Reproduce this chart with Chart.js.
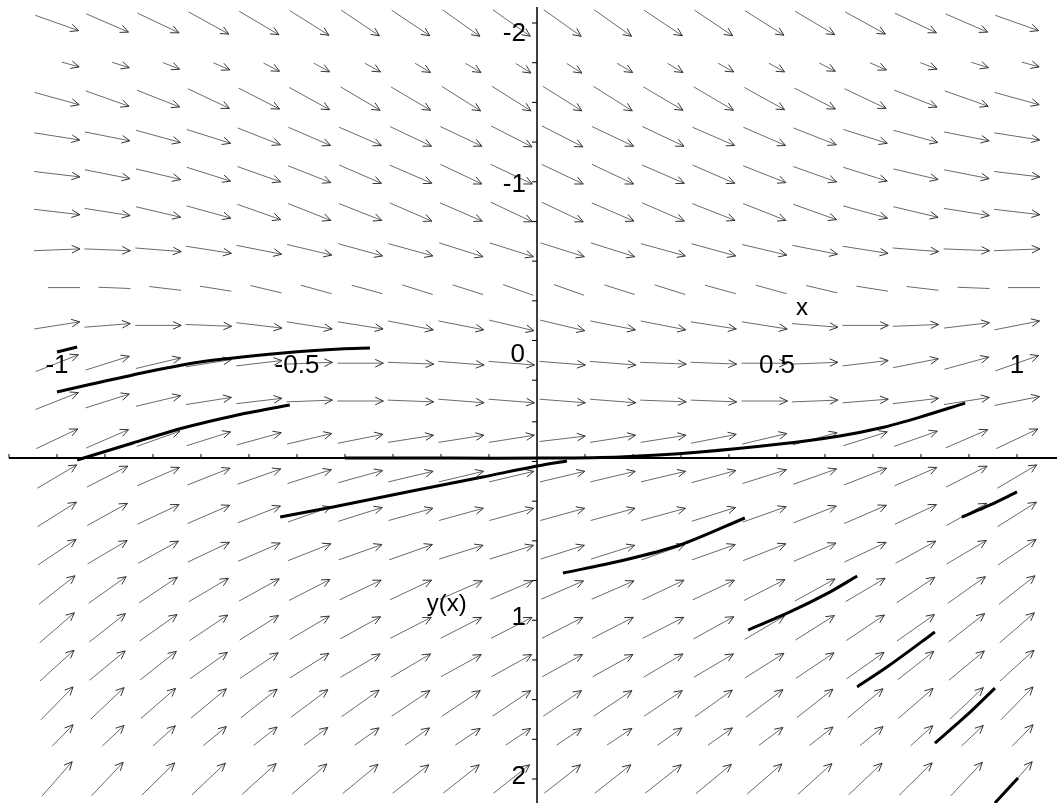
<!DOCTYPE html>
<html>
<head>
<meta charset="utf-8">
<script src="https://cdn.jsdelivr.net/npm/chart.js@4.4.0/dist/chart.umd.min.js"></script>
<style>
html, body { margin: 0; padding: 0; background: #fff; }
#wrap { width: 1057px; height: 803px; }
</style>
</head>
<body>
<div id="wrap"><canvas id="field" width="1057" height="803"></canvas></div>
<script>
// direction field grid (x across, y down the picture)
const gridX = [-1, -0.895, -0.789, -0.684, -0.579, -0.474, -0.368, -0.263, -0.158, -0.053,
               0.053, 0.158, 0.263, 0.368, 0.474, 0.579, 0.684, 0.789, 0.895, 1];
const gridY = [-2, -1.8, -1.6, -1.4, -1.2, -1, -0.8, -0.6, -0.4, -0.2, 0,
               0.2, 0.4, 0.6, 0.8, 1, 1.2, 1.4, 1.6, 1.8, 2];

const slopes = [
  [0.9, 1.1, 1.2, 1.4, 1.5, 1.6, 1.7, 1.7, 1.8, 1.8, 1.8, 1.8, 1.7, 1.7, 1.6, 1.5, 1.4, 1.2, 1.1, 0.9],
  [0.7, 0.8, 1.0, 1.1, 1.3, 1.4, 1.4, 1.5, 1.5, 1.6, 1.6, 1.5, 1.5, 1.4, 1.4, 1.3, 1.1, 1.0, 0.8, 0.7],
  [0.7, 0.9, 1.0, 1.2, 1.3, 1.4, 1.5, 1.5, 1.6, 1.6, 1.6, 1.6, 1.5, 1.5, 1.4, 1.3, 1.2, 1.0, 0.9, 0.7],
  [0.4, 0.5, 0.7, 0.8, 1.0, 1.1, 1.1, 1.2, 1.2, 1.3, 1.3, 1.2, 1.2, 1.1, 1.1, 1.0, 0.8, 0.7, 0.5, 0.4],
  [0.3, 0.5, 0.6, 0.8, 0.9, 1.0, 1.1, 1.1, 1.2, 1.2, 1.2, 1.2, 1.1, 1.1, 1.0, 0.9, 0.8, 0.6, 0.5, 0.3],
  [0.3, 0.4, 0.6, 0.7, 0.9, 1.0, 1.0, 1.1, 1.1, 1.2, 1.2, 1.1, 1.1, 1.0, 1.0, 0.9, 0.7, 0.6, 0.4, 0.3],
  [-0.1, 0.1, 0.2, 0.4, 0.5, 0.6, 0.7, 0.7, 0.8, 0.8, 0.8, 0.8, 0.7, 0.7, 0.6, 0.5, 0.4, 0.2, 0.1, -0.1],
  [0.0, 0.1, 0.3, 0.4, 0.6, 0.7, 0.7, 0.8, 0.8, 0.9, 0.9, 0.8, 0.8, 0.7, 0.7, 0.6, 0.4, 0.3, 0.1, 0.0],
  [-0.4, -0.2, 0.0, 0.1, 0.3, 0.4, 0.4, 0.5, 0.5, 0.6, 0.6, 0.5, 0.5, 0.4, 0.4, 0.2, 0.0, -0.1, -0.3, -0.5],
  [-1.0, -0.8, -0.6, -0.4, -0.3, -0.1, 0.0, 0.1, 0.2, 0.2, 0.2, 0.2, 0.1, 0.1, 0.0, -0.1, -0.3, -0.5, -0.7, -0.9],
  [-1.0, -0.8, -0.6, -0.4, -0.3, -0.1, 0.0, 0.1, 0.2, 0.2, 0.2, 0.2, 0.1, 0.1, 0.0, -0.1, -0.2, -0.3, -0.4, -0.5],
  [-1.2, -1.1, -0.9, -0.8, -0.7, -0.6, -0.5, -0.4, -0.4, -0.4, -0.3, -0.4, -0.4, -0.5, -0.6, -0.7, -0.8, -0.9, -1.1, -1.2],
  [-1.5, -1.3, -1.1, -1.0, -0.9, -0.8, -0.7, -0.6, -0.6, -0.6, -0.6, -0.6, -0.6, -0.7, -0.8, -0.9, -1.0, -1.1, -1.3, -1.5],
  [-1.6, -1.4, -1.2, -1.1, -1.0, -0.9, -0.8, -0.7, -0.7, -0.7, -0.7, -0.7, -0.7, -0.8, -0.9, -1.0, -1.1, -1.2, -1.4, -1.6],
  [-1.7, -1.5, -1.4, -1.2, -1.1, -1.0, -0.9, -0.9, -0.8, -0.8, -0.8, -0.8, -0.9, -0.9, -1.0, -1.1, -1.2, -1.4, -1.5, -1.7],
  [-2.0, -1.8, -1.7, -1.5, -1.4, -1.3, -1.2, -1.2, -1.1, -1.1, -1.1, -1.1, -1.2, -1.2, -1.3, -1.4, -1.5, -1.7, -1.8, -2.0],
  [-2.2, -2.0, -1.8, -1.7, -1.6, -1.5, -1.4, -1.3, -1.3, -1.3, -1.3, -1.3, -1.3, -1.4, -1.5, -1.6, -1.7, -1.8, -2.0, -2.2],
  [-2.3, -2.1, -2.0, -1.8, -1.7, -1.6, -1.5, -1.5, -1.4, -1.4, -1.4, -1.4, -1.5, -1.5, -1.6, -1.7, -1.8, -2.0, -2.1, -2.3],
  [-2.6, -2.4, -2.2, -2.1, -2.0, -1.9, -1.8, -1.7, -1.7, -1.7, -1.7, -1.7, -1.7, -1.8, -1.9, -2.0, -2.1, -2.2, -2.4, -2.6],
  [-2.6, -2.4, -2.3, -2.1, -2.0, -1.9, -1.8, -1.8, -1.7, -1.7, -1.7, -1.7, -1.8, -1.8, -1.9, -2.0, -2.1, -2.3, -2.4, -2.6],
  [-2.9, -2.7, -2.5, -2.4, -2.3, -2.2, -2.1, -2.0, -2.0, -2.0, -2.0, -2.0, -2.0, -2.1, -2.2, -2.3, -2.4, -2.5, -2.7, -2.9]
];

// solution curves, points
const curves = [
  [[-1.0, -0.048], [-0.842, -0.138], [-0.702, -0.206], [-0.529, -0.254], [-0.41, -0.275], [-0.348, -0.28]],
  [[-1.0, -0.259], [-0.958, -0.286]],
  [[-0.958, 0.312], [-0.842, 0.222], [-0.738, 0.143], [-0.633, 0.079], [-0.515, 0.021]],
  [[-0.4, 0.302], [-0.181, 0.302], [0.006, 0.302], [0.173, 0.296], [0.34, 0.27], [0.506, 0.228],
   [0.631, 0.185], [0.715, 0.143], [0.798, 0.085], [0.892, 0.011]],
  [[-0.535, 0.614], [-0.425, 0.561], [-0.25, 0.471], [-0.113, 0.402], [0.0, 0.344], [0.0625, 0.317]],
  [[0.054, 0.91], [0.173, 0.847], [0.298, 0.762], [0.433, 0.619]],
  [[0.44, 1.212], [0.527, 1.116], [0.61, 1.011], [0.667, 0.926]],
  [[0.667, 1.513], [0.735, 1.397], [0.829, 1.222]],
  [[0.829, 1.81], [0.896, 1.661], [0.954, 1.519]],
  [[0.954, 2.127], [1.002, 1.995]],
  [[0.885, 0.614], [0.944, 0.55], [1.0, 0.481]]
];

// axes and ticks
const xAxisAt = 0.302;
const xTicks = [-1.1, -1.0, -0.9, -0.8, -0.7, -0.6, -0.5, -0.4, -0.3, -0.2, -0.1,
                0.1, 0.2, 0.3, 0.4, 0.5, 0.6, 0.7, 0.8, 0.9, 1.0];
const xTickLabels = ['-1', '-0.5', '0', '0.5', '1'];
const xTickLabelAt = [-1, -0.5, -0.04, 0.5, 1];
const yTicks = [-2, -1.79, -1.58, -1.37, -1.16, -0.95, -0.74, -0.53, -0.32, -0.11,
                0.11, 0.32, 0.53, 0.74, 0.95, 1.16, 1.37, 1.58, 1.79, 2];
const yTickLabels = ['-2', '-1', '1', '2'];
const yTickLabelAt = [-1.942, -1.143, 1.148, 1.989];

const xMin = -537 / 480, xMax = 520 / 480;
const yMin = -401 / 189, yMax = 402 / 189;
const W = 1057, H = 803;
const pxX = W / (xMax - xMin), pxY = H / (yMax - yMin);

// arrow look
const arrowLen = 46, headLen = 9, headAngle = 25 * Math.PI / 180;
const rowLook = { 1: { len: 18 }, 7: { len: 32, head: false }, 19: { len: 30 } };

const shafts = [], heads = [];
const gap = { x: null, y: null };
gridY.forEach(function (y, r) {
  const look = rowLook[r] || {};
  const len = look.len || arrowLen;
  gridX.forEach(function (x, c) {
    const s = slopes[r][c] * pxY / pxX;      // pixel slope
    const n = Math.sqrt(1 + s * s);
    const ux = 1 / n, uy = s / n;
    const tip = { x: x + (arrowLen / 2) * ux / pxX, y: y + (arrowLen / 2) * uy / pxY };
    const tail = { x: tip.x - len * ux / pxX, y: tip.y - len * uy / pxY };
    if (look.head === false) {
      shafts.push(tail, { x: tail.x + len * ux / pxX, y: tail.y + len * uy / pxY }, gap);
      return;
    }
    shafts.push(tail, tip, gap);
    const bx = -ux, by = -uy;
    [headAngle, -headAngle].forEach(function (a) {
      const rx = bx * Math.cos(a) - by * Math.sin(a);
      const ry = bx * Math.sin(a) + by * Math.cos(a);
      heads.push({ x: tip.x + headLen * rx / pxX, y: tip.y + headLen * ry / pxY }, tip, gap);
    });
  });
});

const axisPts = [
  { x: xMin + 9 / pxX, y: xAxisAt }, { x: xMax, y: xAxisAt }, gap
];
const yAxisPts = [{ x: 0, y: yMin + 7 / pxY }, { x: 0, y: yMax }];
const tickPts = [];
xTicks.forEach(function (t) {
  tickPts.push({ x: t, y: xAxisAt }, { x: t, y: xAxisAt - 4 / pxY }, gap);
});
yTicks.forEach(function (t) {
  tickPts.push({ x: -5 / pxX, y: t }, { x: 0, y: t }, gap);
});

const datasets = [];
curves.forEach(function (pts) {
  datasets.push({
    data: pts.map(function (p) { return { x: p[0], y: p[1] }; }),
    borderColor: '#000', borderWidth: 3, tension: 0.3, order: 0
  });
});
datasets.push({ data: axisPts, borderColor: '#000', borderWidth: 2, order: 1 });
datasets.push({ data: yAxisPts, borderColor: '#000', borderWidth: 1.5, order: 1 });
datasets.push({ data: tickPts, borderColor: '#000', borderWidth: 1, order: 1 });
datasets.push({ data: heads, borderColor: '#333', borderWidth: 1, order: 2 });
datasets.push({ data: shafts, borderColor: '#6a6a6a', borderWidth: 1, order: 3 });
datasets.forEach(function (d) {
  d.showLine = true; d.pointRadius = 0; d.spanGaps = false; d.fill = false;
  if (d.tension === undefined) d.tension = 0;
});

const textPlugin = {
  id: 'axisText',
  afterDatasetsDraw: function (chart) {
    const ctx = chart.ctx, sx = chart.scales.x, sy = chart.scales.y;
    ctx.save();
    ctx.fillStyle = '#000';
    ctx.font = '26px "Liberation Sans", Arial, sans-serif';
    ctx.textBaseline = 'middle';
    ctx.textAlign = 'center';
    xTickLabels.forEach(function (t, i) {
      const yv = t === '0' ? -0.243 : -0.185;
      ctx.fillText(t, sx.getPixelForValue(xTickLabelAt[i]), sy.getPixelForValue(yv));
    });
    ctx.textAlign = 'right';
    yTickLabels.forEach(function (t, i) {
      ctx.fillText(t, sx.getPixelForValue(-0.023), sy.getPixelForValue(yTickLabelAt[i]));
    });
    ctx.font = '24px "Liberation Sans", Arial, sans-serif';
    ctx.textAlign = 'center';
    ctx.fillText('x', sx.getPixelForValue(0.552), sy.getPixelForValue(-0.492));
    ctx.fillText('y(x)', sx.getPixelForValue(-0.188), sy.getPixelForValue(1.074));
    ctx.restore();
  }
};

new Chart(document.getElementById('field').getContext('2d'), {
  type: 'scatter',
  data: { datasets: datasets },
  options: {
    responsive: false,
    animation: false,
    devicePixelRatio: 1,
    layout: { padding: 0 },
    plugins: { legend: { display: false }, tooltip: { enabled: false } },
    scales: {
      x: { type: 'linear', min: xMin, max: xMax, display: false },
      y: { type: 'linear', min: yMin, max: yMax, reverse: true, display: false }
    }
  },
  plugins: [textPlugin]
});
</script>
</body>
</html>
